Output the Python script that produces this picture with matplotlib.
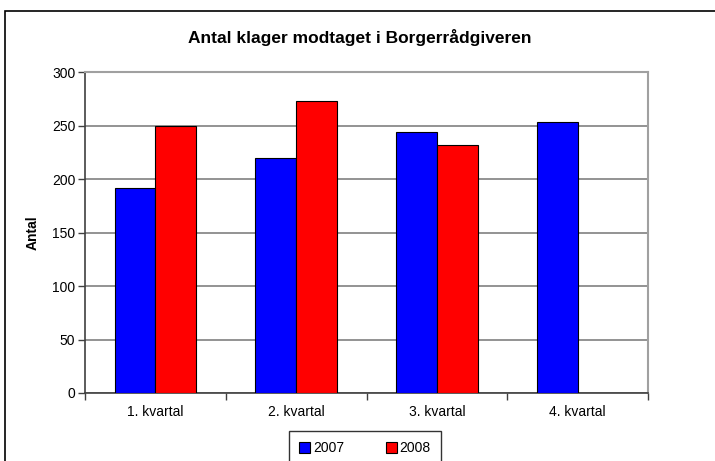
import matplotlib.pyplot as plt
import numpy as np
from matplotlib.patches import Rectangle

plt.rcParams['font.family'] = ['Liberation Sans', 'DejaVu Sans']

categories = ["1. kvartal", "2. kvartal", "3. kvartal", "4. kvartal"]
values_2007 = [192, 220, 244, 253]
values_2008 = [250, 273, 232, np.nan]
series_names = ["2007", "2008"]

fig = plt.figure(figsize=(7.15, 4.61), dpi=100)
ax = fig.add_axes([85 / 715, 1 - 393 / 461, (648 - 85) / 715, (393 - 72) / 461])

# --- outer chart frame (only top and left visible in the crop) ---
fig.patches.append(Rectangle((5 / 715, -0.1), 1.2, 1 - 11 / 461 + 0.1,
                             transform=fig.transFigure, fill=False,
                             edgecolor="black", linewidth=1.2))

x = np.arange(len(categories))
w = 0.29
ax.bar(x - w / 2, values_2007, w, color="#0000ff", edgecolor="black",
       linewidth=0.8, label=series_names[0], zorder=3)
ax.bar(x + w / 2, values_2008, w, color="#ff0000", edgecolor="black",
       linewidth=0.8, label=series_names[1], zorder=3)

ax.set_xlim(-0.5, len(categories) - 0.5)
ax.set_ylim(0, 300)
ax.set_yticks(range(0, 301, 50))
ax.yaxis.grid(True, color="#808080", linewidth=1.2, zorder=0)

# category labels centred, ticks between categories
ax.set_xticks(x)
ax.set_xticklabels(categories, fontsize=10)
ax.tick_params(axis="x", length=0, pad=9)
ax.set_xticks(np.arange(-0.5, len(categories), 1), minor=True)
ax.tick_params(axis="x", which="minor", length=5, color="#404040", width=1)
ax.tick_params(axis="y", length=5, color="#404040", width=1, labelsize=10, pad=2)

for side in ["top", "right"]:
    ax.spines[side].set_color("#a0a0a0")
    ax.spines[side].set_linewidth(1.5)
for side in ["left", "bottom"]:
    ax.spines[side].set_color("#404040")
    ax.spines[side].set_linewidth(1.2)

ax.set_ylabel("Antal", fontsize=10, fontweight="bold", labelpad=9)
fig.text(360 / 715, 1 - 38 / 461, "Antal klager modtaget i Borgerrådgiveren",
         ha="center", va="center", fontsize=12.5, fontweight="bold")

leg = fig.legend(loc="upper center", bbox_to_anchor=(365 / 715, 1 - 431 / 461),
                 ncol=2, fontsize=10, frameon=True, fancybox=False,
                 edgecolor="black", handlelength=0.8, handleheight=0.8,
                 handletextpad=0.2, columnspacing=3.0, borderaxespad=0,
                 borderpad=0.75)
leg.get_frame().set_linewidth(1)

fig.savefig("out.png", dpi=100)
